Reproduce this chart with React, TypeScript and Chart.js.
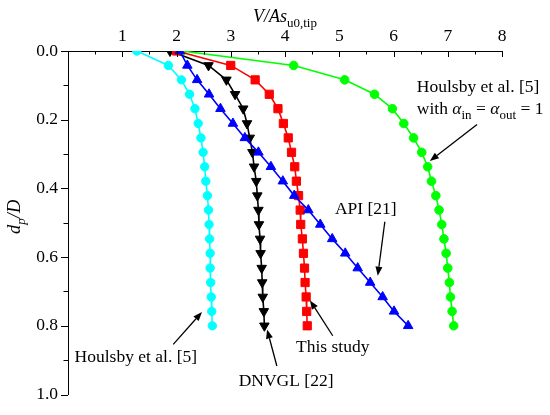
import React, { useEffect, useRef } from 'react';
import { Chart, registerables } from 'chart.js';

Chart.register(...registerables);

// d_p / D values (shared by all series)
const depthRatio = [0, 0.042, 0.084, 0.126, 0.168, 0.211, 0.253, 0.295, 0.337, 0.379, 0.421, 0.463, 0.505, 0.547, 0.589, 0.632, 0.674, 0.716, 0.758, 0.8];

// V / A s_u0,tip
const apiValues = [2.06, 2.2, 2.38, 2.6, 2.81, 3.04, 3.26, 3.51, 3.74, 3.96, 4.17, 4.43, 4.65, 4.87, 5.11, 5.34, 5.57, 5.8, 6.01, 6.27];
const thisStudyValues = [2.0, 3.0, 3.45, 3.71, 3.87, 3.97, 4.06, 4.12, 4.18, 4.21, 4.25, 4.28, 4.29, 4.32, 4.34, 4.36, 4.37, 4.39, 4.4, 4.41];
const dnvglValues = [1.88, 2.59, 2.92, 3.08, 3.23, 3.3, 3.35, 3.4, 3.43, 3.47, 3.49, 3.51, 3.52, 3.54, 3.55, 3.57, 3.58, 3.59, 3.61, 3.62];
const houlsbyAlphaValues = [2.1, 4.16, 5.1, 5.65, 5.98, 6.19, 6.37, 6.52, 6.63, 6.7, 6.78, 6.84, 6.89, 6.93, 6.97, 7.0, 7.03, 7.05, 7.08, 7.11];
const houlsbyValues = [1.27, 1.85, 2.09, 2.24, 2.34, 2.4, 2.45, 2.49, 2.52, 2.54, 2.57, 2.59, 2.6, 2.61, 2.62, 2.62, 2.63, 2.64, 2.65, 2.66];

const xMin = 0;
const xMax = 8;
const yMin = 0;
const yMax = 1;

const FONT = "'Liberation Serif', 'Times New Roman', serif";
const FS = 17.5;

type Part = { t: string; italic?: boolean; sub?: boolean };

// annotation labels (data coordinates)
const labels: { parts: Part[]; x: number; y: number; align: 'left' | 'center' }[] = [
  { parts: [{ t: 'Houlsby et al. [5]' }], x: 6.43, y: 0.106, align: 'left' },
  {
    parts: [
      { t: 'with ' }, { t: 'α', italic: true }, { t: 'in', sub: true }, { t: ' = ' },
      { t: 'α', italic: true }, { t: 'out', sub: true }, { t: ' = 1' },
    ],
    x: 6.43, y: 0.169, align: 'left',
  },
  { parts: [{ t: 'API [21]' }], x: 5.49, y: 0.46, align: 'center' },
  { parts: [{ t: 'This study' }], x: 4.88, y: 0.863, align: 'center' },
  { parts: [{ t: 'DNVGL [22]' }], x: 4.02, y: 0.963, align: 'center' },
  { parts: [{ t: 'Houlsby et al. [5]' }], x: 1.25, y: 0.891, align: 'center' },
];

// arrows: [tailX, tailY, headX, headY] in data coordinates
const arrows: number[][] = [
  [7.54, 0.214, 6.67, 0.32],
  [5.84, 0.497, 5.71, 0.654],
  [4.88, 0.829, 4.46, 0.726],
  [3.85, 0.917, 3.67, 0.811],
  [1.94, 0.854, 2.47, 0.76],
];

function fontFor(p: Part, size: number) {
  const s = p.sub ? Math.round(size * 0.72) : size;
  return `${p.italic ? 'italic ' : ''}${s}px ${FONT}`;
}

function drawRich(ctx: CanvasRenderingContext2D, parts: Part[], x: number, y: number, align: 'left' | 'center', size: number) {
  let total = 0;
  const widths = parts.map((p) => {
    ctx.font = fontFor(p, size);
    const w = ctx.measureText(p.t).width;
    total += w;
    return w;
  });
  let cx = align === 'center' ? x - total / 2 : x;
  ctx.textAlign = 'left';
  ctx.textBaseline = 'middle';
  parts.forEach((p, i) => {
    ctx.font = fontFor(p, size);
    ctx.fillText(p.t, cx, p.sub ? y + size * 0.38 : y);
    cx += widths[i];
  });
}

const decorPlugin = {
  id: 'decor',
  afterDraw(chart: any) {
    const ctx: CanvasRenderingContext2D = chart.ctx;
    const xs = chart.scales.x;
    const ys = chart.scales.y;
    const area = chart.chartArea;
    ctx.save();
    ctx.strokeStyle = '#000';
    ctx.fillStyle = '#000';
    ctx.lineWidth = 1;
    // x ticks (inward, top axis)
    for (let i = 0; i <= (xMax - xMin) * 2; i++) {
      const v = xMin + i * 0.5;
      const px = Math.round(xs.getPixelForValue(v)) + 0.5;
      const len = i % 2 === 0 ? 6 : 3.5;
      ctx.beginPath();
      ctx.moveTo(px, area.top);
      ctx.lineTo(px, area.top + len);
      ctx.stroke();
    }
    // y ticks (outward, left axis)
    for (let i = 0; i <= 10; i++) {
      const v = yMin + i * 0.1;
      const py = Math.round(ys.getPixelForValue(v)) + 0.5;
      const len = i % 2 === 0 ? 7 : 4.5;
      ctx.beginPath();
      ctx.moveTo(area.left, py);
      ctx.lineTo(area.left - len, py);
      ctx.stroke();
    }
    // x title
    const cx = (area.left + area.right) / 2;
    drawRich(ctx, [{ t: 'V', italic: true }, { t: '/', italic: true }, { t: 'As', italic: true }, { t: 'u0,tip', sub: true }], cx, 17, 'center', 18);
    // y title
    ctx.save();
    ctx.translate(15, (area.top + area.bottom) / 2 - 6);
    ctx.rotate(-Math.PI / 2);
    drawRich(ctx, [{ t: 'd', italic: true }, { t: 'p', italic: true, sub: true }, { t: '/D', italic: true }], 0, 0, 'center', 18.5);
    ctx.restore();
    // labels
    labels.forEach((l) => {
      drawRich(ctx, l.parts, xs.getPixelForValue(l.x), ys.getPixelForValue(l.y), l.align, FS);
    });
    // arrows
    arrows.forEach(([x1, y1, x2, y2]) => {
      const ax = xs.getPixelForValue(x1);
      const ay = ys.getPixelForValue(y1);
      const bx = xs.getPixelForValue(x2);
      const by = ys.getPixelForValue(y2);
      const ang = Math.atan2(by - ay, bx - ax);
      const hl = 9;
      const hw = 3.5;
      const baseX = bx - hl * Math.cos(ang);
      const baseY = by - hl * Math.sin(ang);
      ctx.lineWidth = 1.3;
      ctx.beginPath();
      ctx.moveTo(ax, ay);
      ctx.lineTo(baseX, baseY);
      ctx.stroke();
      ctx.beginPath();
      ctx.moveTo(bx, by);
      ctx.lineTo(baseX + hw * Math.sin(ang), baseY - hw * Math.cos(ang));
      ctx.lineTo(baseX - hw * Math.sin(ang), baseY + hw * Math.cos(ang));
      ctx.closePath();
      ctx.fill();
    });
    ctx.restore();
  },
};

function toPoints(values: number[]) {
  return values.map((v, i) => ({ x: v, y: depthRatio[i] }));
}

export default function App() {
  const ref = useRef<HTMLCanvasElement | null>(null);
  useEffect(() => {
    if (!ref.current) return;
    const chart = new Chart(ref.current, {
      type: 'line',
      data: {
        datasets: [
          {
            label: 'API [21]',
            data: toPoints(apiValues),
            borderColor: '#0000FF',
            backgroundColor: '#0000FF',
            pointStyle: 'triangle',
            pointRadius: 5.5,
            borderWidth: 1.6,
            pointBorderWidth: 1,
          },
          {
            label: 'This study',
            data: toPoints(thisStudyValues),
            borderColor: '#FF0000',
            backgroundColor: '#FF0000',
            pointStyle: 'rect',
            pointRadius: 5.8,
            borderWidth: 1.6,
            pointBorderWidth: 1,
          },
          {
            label: 'DNVGL [22]',
            data: toPoints(dnvglValues),
            borderColor: '#000000',
            backgroundColor: '#000000',
            pointStyle: 'triangle',
            pointRotation: 180,
            pointRadius: 5.5,
            borderWidth: 1.6,
            pointBorderWidth: 1,
          },
          {
            label: 'Houlsby et al. [5] with alpha',
            data: toPoints(houlsbyAlphaValues),
            borderColor: '#00FF00',
            backgroundColor: '#00FF00',
            pointStyle: 'circle',
            pointRadius: 4.3,
            borderWidth: 1.6,
            pointBorderWidth: 1,
          },
          {
            label: 'Houlsby et al. [5]',
            data: toPoints(houlsbyValues),
            borderColor: '#00FFFF',
            backgroundColor: '#00FFFF',
            pointStyle: 'circle',
            pointRadius: 4.2,
            borderWidth: 1.6,
            pointBorderWidth: 1,
          },
        ],
      },
      options: {
        animation: false,
        responsive: false,
        devicePixelRatio: 1,
        layout: { padding: { left: 0, top: 0, right: 48, bottom: 14 } },
        plugins: { legend: { display: false }, tooltip: { enabled: false } },
        elements: { line: { tension: 0 } },
        scales: {
          x: {
            type: 'linear',
            position: 'top',
            min: xMin,
            max: xMax,
            grid: { display: false, drawTicks: false },
            border: { display: true, color: '#000', width: 1 },
            ticks: {
              stepSize: 1,
              padding: 4,
              color: '#000',
              font: { family: FONT, size: FS },
              callback: (v: any) => (Number(v) === 0 ? '' : String(v)),
            },
            afterFit: (s: any) => { s.height = 51; },
          },
          y: {
            type: 'linear',
            reverse: true,
            min: yMin,
            max: yMax,
            grid: { display: false, drawTicks: false },
            border: { display: true, color: '#000', width: 1 },
            ticks: {
              stepSize: 0.2,
              padding: 10,
              color: '#000',
              font: { family: FONT, size: FS },
              callback: (v: any) => Number(v).toFixed(1),
            },
            afterFit: (s: any) => { s.width = 68; },
          },
        },
      },
      plugins: [decorPlugin],
    } as any);
    return () => chart.destroy();
  }, []);
  return (
    <div style={{ position: 'absolute', left: 0, top: 0, width: 550, height: 415, background: '#fff' }}>
      <canvas ref={ref} width={550} height={415} style={{ width: 550, height: 415, display: 'block' }} />
    </div>
  );
}
